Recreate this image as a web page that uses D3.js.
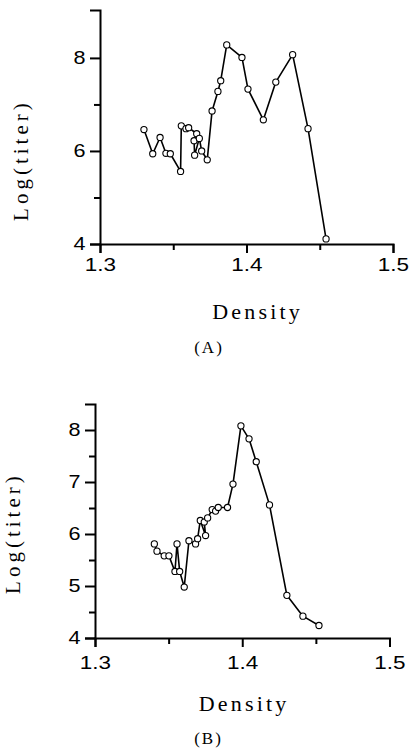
<!DOCTYPE html>
<html><head><meta charset="utf-8">
<script src="https://cdn.jsdelivr.net/npm/d3@7"></script>
<style>body{margin:0;background:#fff}</style>
</head><body><svg id="c" width="409" height="749"></svg>
<script>
// Panel A data
const densA  = [1.330, 1.336, 1.341, 1.345, 1.348, 1.355, 1.3555, 1.3587, 1.3605, 1.3660, 1.3642, 1.3646, 1.3678, 1.3694, 1.3732, 1.3765, 1.3805, 1.3824, 1.3865, 1.3969, 1.4010, 1.4115, 1.4200, 1.4315, 1.4420, 1.4543];
const titerA = [6.46, 5.94, 6.29, 5.95, 5.94, 5.56, 6.54, 6.48, 6.50, 6.37, 6.22, 5.91, 6.27, 6.00, 5.81, 6.86, 7.28, 7.51, 8.28, 8.01, 7.33, 6.67, 7.48, 8.07, 6.48, 4.11];
// Panel B data
const densB  = [1.3403, 1.3421, 1.3470, 1.3502, 1.3543, 1.3557, 1.3575, 1.3606, 1.3638, 1.3683, 1.3697, 1.3715, 1.3751, 1.3742, 1.3765, 1.3796, 1.3819, 1.3837, 1.3900, 1.3937, 1.3991, 1.4046, 1.4095, 1.4185, 1.4303, 1.4412, 1.4521];
const titerB = [5.81, 5.67, 5.58, 5.58, 5.28, 5.81, 5.28, 4.98, 5.87, 5.81, 5.91, 6.26, 5.97, 6.23, 6.31, 6.47, 6.44, 6.51, 6.51, 6.96, 8.08, 7.83, 7.39, 6.56, 4.82, 4.42, 4.24];
// Ticks
const xTicks  = [1.3, 1.35, 1.4, 1.45, 1.5];
const xLabels = ["1.3", "", "1.4", "", "1.5"];
const yTicksA  = [4, 5, 6, 7, 8];
const yLabelsA = ["4", "", "6", "", "8"];
const yTicksB  = [4, 4.5, 5, 5.5, 6, 6.5, 7, 7.5, 8];
const yLabelsB = ["4", "", "5", "", "6", "", "7", "", "8"];
const xTitle = "Density", yTitle = "Log(titer)";

const svg = d3.select("#c");
const sans = "'Liberation Sans', Arial, sans-serif";
const serif = "'Liberation Serif', 'Times New Roman', serif";

function panel(o) {
  const x = d3.scaleLinear().domain([1.3, 1.5]).range([o.x0, o.x1]);
  const y = d3.scaleLinear().domain(o.yDomain).range([o.y0, o.y1]);
  const g = svg.append("g");

  const xl = d3.map(o.xTicks, (t, i) => o.xLabels[i]);
  const xa = g.append("g").attr("transform", `translate(0,${o.y0})`)
    .call(d3.axisBottom(x).tickValues(o.xTicks).tickSizeOuter(0).tickSize(9).tickPadding(o.xPad)
      .tickFormat((d, i) => xl[i]));
  xa.selectAll(".tick line").attr("y2", (d, i) => xl[i] ? 9 : 6);

  const yl = o.yLabels;
  const ya = g.append("g").attr("transform", `translate(${o.x0},0)`)
    .call(d3.axisLeft(y).tickValues(o.yTicks).tickSizeOuter(0).tickSize(10).tickPadding(4)
      .tickFormat((d, i) => yl[i]));
  ya.selectAll(".tick line").attr("x2", (d, i) => yl[i] ? -10 : -6);

  [xa, ya].forEach(a => {
    a.select(".domain").attr("stroke", "#000").attr("stroke-width", 2);
    a.selectAll(".tick line").attr("stroke", "#000").attr("stroke-width", 2);
    a.selectAll("text").attr("font-family", sans).attr("font-size", 18).attr("fill", "#000");
  });
  xa.selectAll("text").attr("transform", "scale(1.25,1)");
  ya.selectAll("text").attr("transform", "scale(1.2,1)").attr("x", -12);

  const pts = d3.zip(o.dens, o.titer);
  g.append("path").datum(pts)
    .attr("fill", "none").attr("stroke", "#000").attr("stroke-width", 1.6).attr("stroke-linejoin", "round")
    .attr("d", d3.line().x(d => x(d[0])).y(d => y(d[1])));
  g.selectAll("circle").data(pts).join("circle")
    .attr("cx", d => x(d[0])).attr("cy", d => y(d[1])).attr("r", 3.1)
    .attr("fill", "#fff").attr("stroke", "#000").attr("stroke-width", 1.1);

  g.append("text").text(o.xTitle).attr("x", o.xtX + 1.6).attr("y", o.xtY)
    .attr("text-anchor", "middle").attr("font-family", serif).attr("font-size", 22)
    .attr("letter-spacing", 3.2).attr("fill", "#000");
  g.append("text").text(o.yTitle)
    .attr("transform", `translate(${o.ytX},${o.ytY}) rotate(-90)`)
    .attr("x", 1.9).attr("text-anchor", "middle").attr("font-family", serif).attr("font-size", 21)
    .attr("letter-spacing", 4).attr("fill", "#000");
  g.append("text").text(o.tag).attr("x", o.tagX + 1).attr("y", o.tagY)
    .attr("text-anchor", "middle").attr("font-family", serif).attr("font-size", 17)
    .attr("letter-spacing", 2).attr("fill", "#000");
}

panel({x0: 100, x1: 393, y0: 244, y1: 10, yDomain: [4, 9.03], xPad: 5,
  xTicks: xTicks, xLabels: xLabels, yTicks: yTicksA, yLabels: yLabelsA,
  dens: densA, titer: titerA, xTitle: xTitle, yTitle: yTitle,
  xtX: 256, xtY: 319, ytX: 28, ytY: 162, tag: "(A)", tagX: 208, tagY: 353});

panel({x0: 95, x1: 389.5, y0: 638, y1: 404, yDomain: [4, 8.5], xPad: 9,
  xTicks: xTicks, xLabels: xLabels, yTicks: yTicksB, yLabels: yLabelsB,
  dens: densB, titer: titerB, xTitle: xTitle, yTitle: yTitle,
  xtX: 242.5, xtY: 711, ytX: 20, ytY: 535, tag: "(B)", tagX: 207.5, tagY: 744});
</script></body></html>
